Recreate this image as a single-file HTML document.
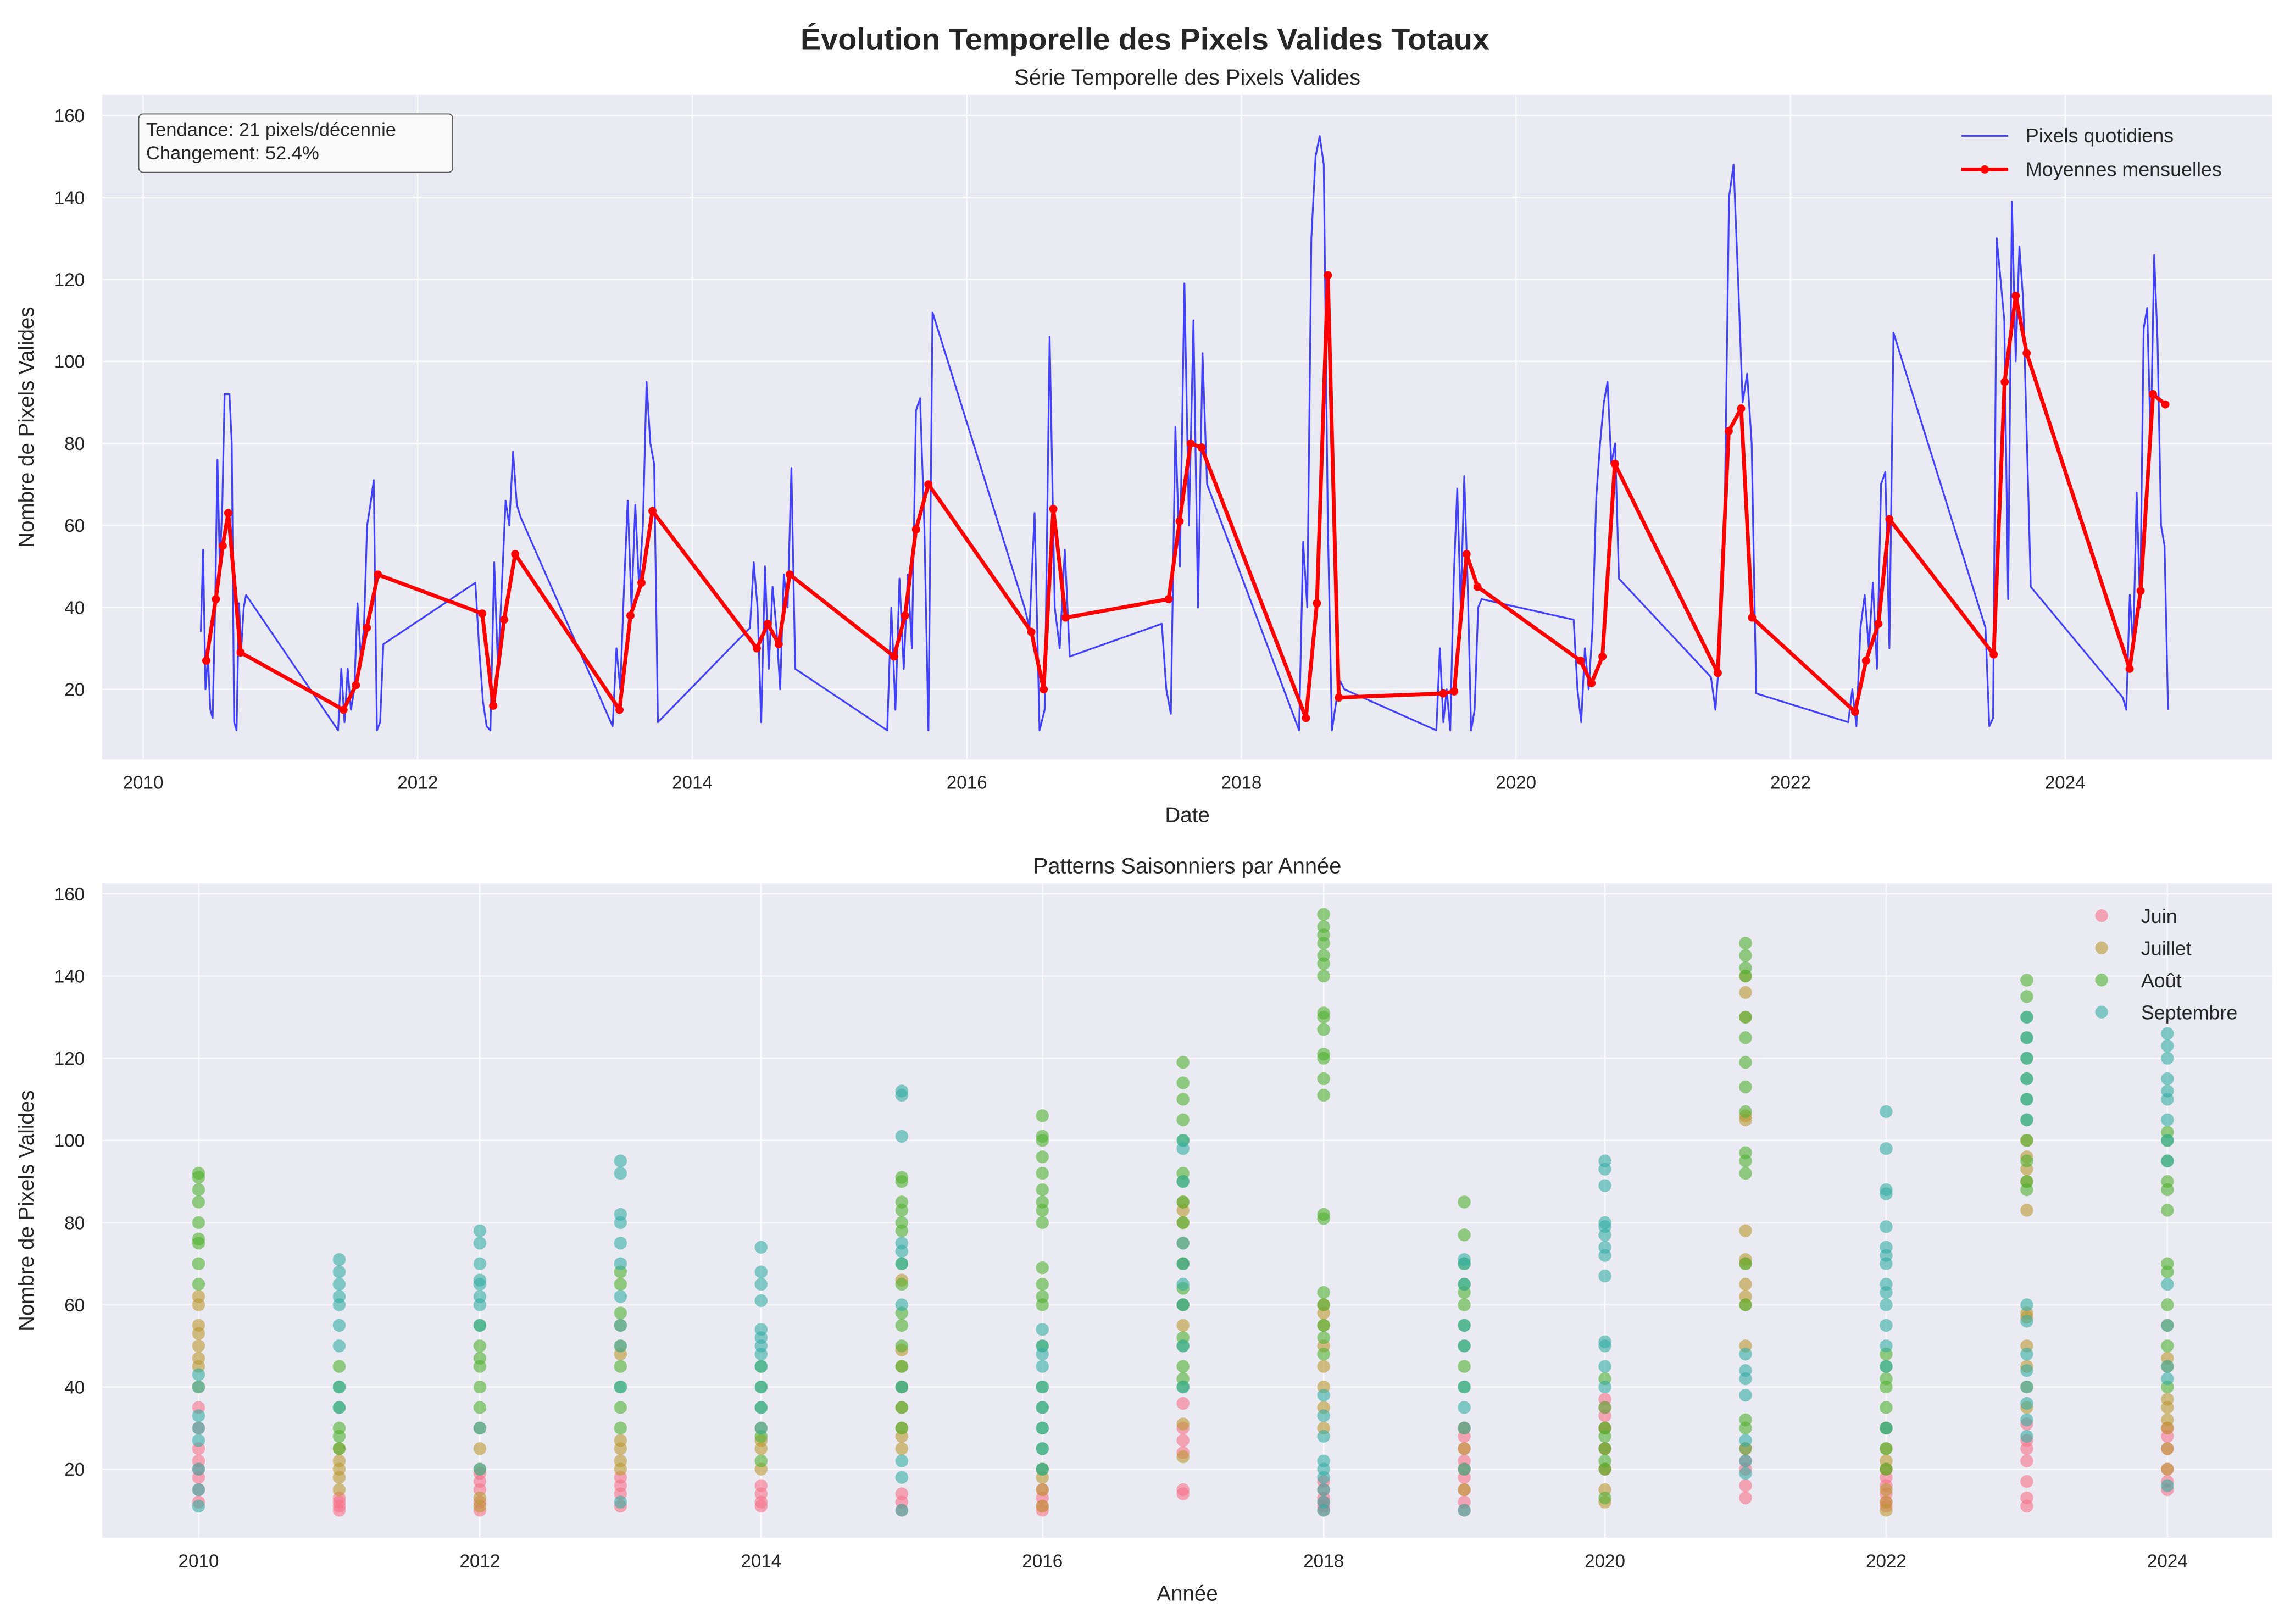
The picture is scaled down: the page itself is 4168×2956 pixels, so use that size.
<!DOCTYPE html>
<html><head><meta charset="utf-8"><style>
html,body{margin:0;padding:0;background:#fff}
svg{display:block}
text{font-family:"Liberation Sans",Arial,sans-serif;fill:#262626}
</style></head><body>
<svg id="c" xmlns="http://www.w3.org/2000/svg" width="4168" height="2956" viewBox="0 0 1568 1112">
<rect width="1568" height="1112" fill="#fff"/>
<text x="784" y="34" text-anchor="middle" font-size="21" font-weight="bold">Évolution Temporelle des Pixels Valides Totaux</text>
<g id="topchart"></g>
<g id="botchart"></g>
</svg>
<script>
const dailyYears = [2010,2011,2012,2013,2014,2015,2016,2017,2018,2019,2020,2021,2022,2023,2024];
const dailyValues = [
 [34,54,20,28,15,13,40,76,50,65,92,92,92,80,12,10,41,30,40,43],
 [10,25,12,25,15,20,41,28,35,60,65,71,10,12,31],
 [46,30,17,11,10,51,25,45,66,60,78,65,62],
 [11,30,20,44,66,40,65,45,60,95,80,75,12],
 [35,51,40,12,50,25,45,35,20,48,40,74,25],
 [10,40,15,47,25,48,30,88,91,60,10,112],
 [40,35,63,10,15,106,40,30,54,28],
 [36,20,14,84,50,119,60,110,40,102,70],
 [10,56,40,130,150,155,148,60,10,17,22,20],
 [10,30,12,20,10,47,69,40,72,45,10,15,40,42],
 [37,20,12,30,20,35,67,80,90,95,75,80,47],
 [23,15,30,60,140,148,120,90,97,80,19],
 [12,20,11,35,43,30,46,25,70,73,30,107],
 [35,11,13,130,120,110,42,139,100,128,115,80,45],
 [18,15,43,30,68,40,108,113,80,126,105,60,55,15]
];
const monthlyDates = [2010.46,2010.53,2010.58,2010.62,2010.71, 2011.46,2011.55,2011.63,2011.71, 2012.47,2012.55,2012.63,2012.71,
 2013.47,2013.55,2013.63,2013.71, 2014.47,2014.55,2014.63,2014.71, 2015.47,2015.55,2015.63,2015.72, 2016.47,2016.56,2016.63,2016.72,
 2017.47,2017.55,2017.63,2017.71, 2018.47,2018.55,2018.63,2018.71, 2019.47,2019.55,2019.64,2019.72, 2020.47,2020.55,2020.63,2020.72,
 2021.47,2021.55,2021.64,2021.72, 2022.47,2022.55,2022.64,2022.72, 2023.48,2023.56,2023.64,2023.72, 2024.47,2024.55,2024.64,2024.73];
const monthlyValues = [27,42,55,63,29, 15,21,35,48, 38.5,16,37,53, 15,38,46,63.5, 30,36,31,48, 28,38,59,70, 34,20,64,37.5,
 42,61,80,79, 13,41,121,18, 19,19.5,53,45, 27,21.5,28,75, 24,83,88.5,37.5, 14.5,27,36,61.5, 28.5,95,116,102, 25,44,92,89.5];
const scatterYears = [2010,2011,2012,2013,2014,2015,2016,2017,2018,2019,2020,2021,2022,2023,2024];
const juin = [[12,15,20,25,30,35,18,22],[10,11,13,12],[10,12,15,17,19],[11,14,16,18],[11,12,14,16],[10,12,14],[10,11,13,15],[14,15,24,27,30,36],[10,11,12,13,15,17],[10,12,15,18,20,22,25,28,30],[20,25,30,33,35,37],[13,16,20,22,25],[11,12,14,16,18,20],[11,13,17,22,25,27,31],[15,17,20,25,28,30]];
const juillet = [[40,45,50,55,60,53,47,62],[15,20,22,25,18],[11,13,20,25,30],[20,22,25,27,48,50,55],[20,25,27,30],[25,28,30,35,40,45,49,66],[11,15,18,20],[23,31,55,60,70,75,80,83,85],[30,35,40,45,50,55,58,60],[15,20,25,30],[12,15,20,25,30],[50,60,62,65,70,71,78,105,106,130,136,140],[10,12,15,20,22,25,30],[35,40,45,50,57,58,83,90,93,96,100],[20,25,30,32,35,37,45,47,55]];
const aout = [[65,70,76,80,85,88,92,91,75],[25,30,35,40,45,28],[35,40,45,47,50,55],[30,35,40,45,58,65,68],[22,28,35,40,45],[30,35,40,45,50,55,58,65,70,78,80,83,85,90,91],[20,25,30,35,40,50,60,62,65,69,80,83,85,88,92,96,100,101,106],[40,42,45,50,52,60,64,70,80,85,90,92,100,105,110,114,119],[48,52,55,60,63,81,82,111,115,120,121,127,130,131,140,143,145,148,150,152,155],[40,45,50,55,60,63,65,70,77,85],[13,20,22,25,28,30,35,42],[25,30,32,60,70,92,95,97,107,113,119,125,130,140,142,145,148],[20,25,30,35,40,42,45,48],[88,90,95,100,105,110,115,120,125,130,135,139],[40,50,60,68,70,83,88,90,95,100,102]];
const septembre = [[11,15,20,27,33,40,43,30],[50,55,60,62,65,68,71,40,35],[55,60,62,65,70,75,78,66,20,30],[12,40,50,55,62,70,75,80,82,92,95],[30,35,40,45,48,50,52,54,61,65,68,74],[10,18,22,40,60,70,73,75,101,111,112],[20,25,30,35,40,45,48,50,54],[40,50,60,65,70,75,90,98,100],[10,12,15,18,20,22,28,33,38],[10,20,30,35,40,50,55,65,70,71],[40,45,50,51,67,72,74,77,79,80,89,93,95],[19,22,27,38,42,44,48],[30,45,50,55,60,63,65,70,72,74,79,87,88,98,107],[28,32,36,40,44,48,56,60,105,110,115,120,125,130],[16,42,45,55,65,95,100,105,110,112,115,120,123,126]];
const yTicks = [20,40,60,80,100,120,140,160];
const xTicksTop = [2010,2012,2014,2016,2018,2020,2022,2024];
const monthNames = ["Juin","Juillet","Août","Septembre"];

const NS="http://www.w3.org/2000/svg";
function mk(p,tag,attrs,txt){const e=document.createElementNS(NS,tag);for(const k in attrs)e.setAttribute(k,attrs[k]);if(txt!==undefined)e.textContent=txt;p.appendChild(e);return e;}

const X1=t=>98+(t-2010)*94, Y1=v=>472-(v-20)*2.807;
const X2=y=>136+(y-2010)*96.29, Y2=v=>1006-(v-20)*2.814;

function axes(g,ty,by,X,Y,xt,title,xlabel){
  const bg=mk(g,'rect',{x:70,y:ty,width:1486,height:by-ty,fill:'#eaeaf2'});
  
  
  xt.forEach(t=>{const x=X(t);
    mk(g,'line',{x1:x,x2:x,y1:ty,y2:by,stroke:'#fff','stroke-opacity':0.7,'stroke-width':1});
    const l=mk(g,'text',{x:x,y:by+20,'text-anchor':'middle','font-size':12.5},t);
    
    });
  yTicks.forEach(v=>{const y=Y(v);
    mk(g,'line',{x1:70,x2:1556,y1:y,y2:y,stroke:'#fff','stroke-opacity':0.7,'stroke-width':1});
    const l=mk(g,'text',{x:58,y:y+4.5,'text-anchor':'end','font-size':12.5},v);
    
    });
  const t=mk(g,'text',{x:813,y:ty-7,'text-anchor':'middle','font-size':15},title);
  
  
  const xl=mk(g,'text',{x:813,y:by+43,'text-anchor':'middle','font-size':14.5},xlabel);
  
  
  const cy=(ty+by)/2;
  const yl=mk(g,'text',{x:23,y:cy,'text-anchor':'middle','font-size':14.5,transform:`rotate(-90 23 ${cy})`},'Nombre de Pixels Valides');
  
  
}

const topG=document.getElementById('topchart');
axes(topG,65,520,X1,Y1,xTicksTop,'Série Temporelle des Pixels Valides','Date');
const pts=[];
dailyYears.forEach((yr,i)=>{const vals=dailyValues[i];const n=vals.length;
  vals.forEach((v,j)=>{const t=yr+0.42+(0.33*j/(n-1));pts.push(X1(t).toFixed(1)+','+Y1(v).toFixed(1));});});
const dl=mk(topG,'polyline',{points:pts.join(' '),fill:'none',stroke:'#0000ff','stroke-opacity':0.72,'stroke-width':1.2,'stroke-linejoin':'round'});


const mp=monthlyDates.map((d,i)=>X1(d).toFixed(1)+','+Y1(monthlyValues[i]).toFixed(1));
const ml=mk(topG,'polyline',{points:mp.join(' '),fill:'none',stroke:'#ff0000','stroke-width':2.6,'stroke-linejoin':'round'});


monthlyDates.forEach((d,i)=>{const c=mk(topG,'circle',{cx:X1(d),cy:Y1(monthlyValues[i]),r:2.8,fill:'#ff0000'});
  
  });
const sb=mk(topG,'g',{});


mk(sb,'rect',{x:95,y:78,width:215,height:40,rx:3,fill:'#fafafb',stroke:'#555','stroke-width':0.7});
mk(sb,'text',{x:100,y:93,'font-size':13},'Tendance: 21 pixels/décennie');
mk(sb,'text',{x:100,y:109,'font-size':13},'Changement: 52.4%');
const lg=mk(topG,'g',{});


mk(lg,'line',{x1:1343,x2:1375,y1:93,y2:93,stroke:'#0000ff','stroke-opacity':0.72,'stroke-width':1.2});
mk(lg,'text',{x:1387,y:97.5,'font-size':13.5},'Pixels quotidiens');
mk(lg,'line',{x1:1343,x2:1375,y1:116,y2:116,stroke:'#ff0000','stroke-width':2.6});
mk(lg,'circle',{cx:1359,cy:116,r:2.8,fill:'#ff0000'});
mk(lg,'text',{x:1387,y:120.5,'font-size':13.5},'Moyennes mensuelles');

const botG=document.getElementById('botchart');
axes(botG,605,1053,X2,Y2,xTicksTop,'Patterns Saisonniers par Année','Année');
const colors=['#f77189','#bb9832','#50b131','#36ada4'];
[juin,juillet,aout,septembre].forEach((series,m)=>{
  scatterYears.forEach((yr,i)=>{series[i].forEach(v=>{
    const c=mk(botG,'circle',{cx:X2(yr),cy:Y2(v),r:4.4,fill:colors[m],'fill-opacity':0.6});
    
    });});
});
monthNames.forEach((nm,m)=>{const y=627+m*22;
  const e=mk(botG,'g',{});
  
  
  mk(e,'circle',{cx:1439,cy:y,r:4.4,fill:colors[m],'fill-opacity':0.6});
  mk(e,'text',{x:1466,y:y+5,'font-size':13.5},nm);});
</script>
</body></html>
